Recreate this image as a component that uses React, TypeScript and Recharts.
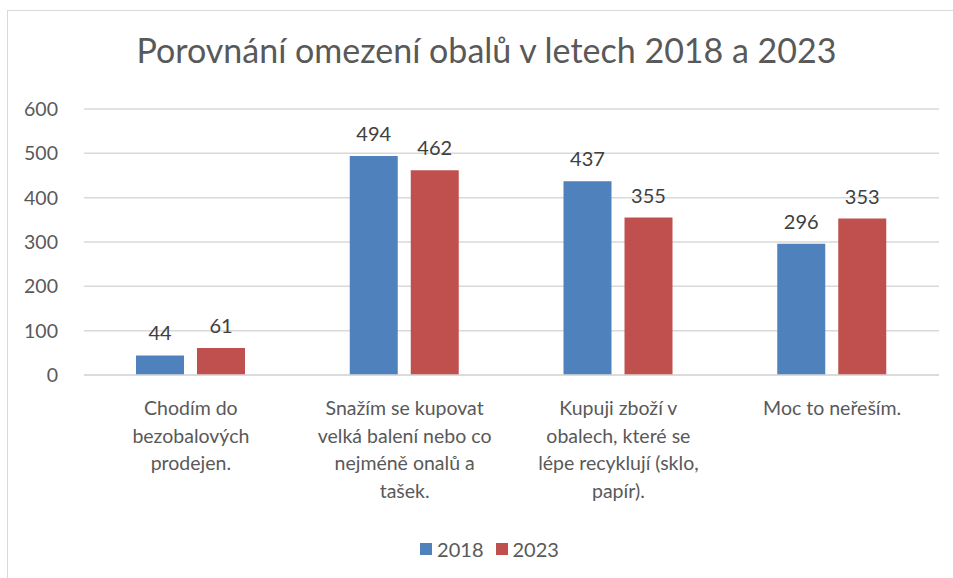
import React from "react";
import { Bar, BarChart, CartesianGrid, LabelList, Legend, XAxis, YAxis } from "recharts";

const categories = [
  "Chodím do\nbezobalových\nprodejen.",
  "Snažím se kupovat\nvelká balení nebo co\nnejméně onalů a\ntašek.",
  "Kupuji zboží v\nobalech, které se\nlépe recyklují (sklo,\npapír).",
  "Moc to neřeším.",
];
const values2018 = [44, 494, 437, 296];
const values2023 = [61, 462, 355, 353];
const yTicks = [0, 100, 200, 300, 400, 500, 600];
const seriesNames = ["2018", "2023"];

const BLUE = "#4F81BD";
const RED = "#C0504D";
const FONT = "Lato, 'Open Sans', sans-serif";

const data = categories.map((name, i) => ({
  name,
  y2018: values2018[i],
  y2023: values2023[i],
}));

function CategoryTick({ x, y, payload }: any) {
  const lines = String(payload.value).split("\n");
  return (
    <g>
      {lines.map((line, i) => (
        <text key={i} x={x} y={y + 32 + i * 27.7} textAnchor="middle" fill="#595959" fontSize={19.5} fontFamily={FONT}>
          {line}
        </text>
      ))}
    </g>
  );
}

function LegendBox() {
  const items = [
    { label: seriesNames[0], color: BLUE },
    { label: seriesNames[1], color: RED },
  ];
  return (
    <div style={{ display: "flex", justifyContent: "center", gap: 12, fontFamily: FONT, fontSize: 20, color: "#595959", paddingTop: 12, paddingLeft: 16 }}>
      {items.map((it) => (
        <div key={it.label} style={{ display: "flex", alignItems: "center", gap: 5 }}>
          <span style={{ width: 12, height: 12, background: it.color, display: "inline-block" }} />
          <span>{it.label}</span>
        </div>
      ))}
    </div>
  );
}

export default function App() {
  return (
    <div style={{ position: "fixed", left: 0, top: 0, width: 953, height: 578, overflow: "hidden", background: "#fff" }}>
      <div style={{ position: "absolute", left: 7, top: 10, width: 1200, height: 1200, border: "1px solid #d9d9d9" }} />
      <div style={{ position: "absolute", left: 0, top: 29, width: 973, textAlign: "center", fontFamily: FONT, fontSize: 34, color: "#595959" }}>
        Porovnání omezení obalů v letech 2018 a 2023
      </div>
      <div style={{ position: "absolute", left: 0, top: 0 }}>
        <BarChart width={953} height={578} data={data} margin={{ top: 109, right: 14, left: 24, bottom: 0 }} barSize={48} barGap={13}>
          <CartesianGrid vertical={false} stroke="#d9d9d9" strokeWidth={1.5} />
          <XAxis dataKey="name" tickLine={false} axisLine={{ stroke: "#d9d9d9", strokeWidth: 1.5 }} height={150} interval={0} tick={<CategoryTick />} />
          <YAxis domain={[0, 600]} ticks={yTicks} tickLine={false} axisLine={false} width={60} tick={{ fill: "#595959", fontSize: 19.5, fontFamily: FONT }} tickMargin={20} />
          <Legend verticalAlign="bottom" height={53} content={<LegendBox />} />
          <Bar dataKey="y2018" name={seriesNames[0]} fill={BLUE} isAnimationActive={false}>
            <LabelList dataKey="y2018" position="top" offset={15} fill="#404040" fontSize={20} fontFamily={FONT} />
          </Bar>
          <Bar dataKey="y2023" name={seriesNames[1]} fill={RED} isAnimationActive={false}>
            <LabelList dataKey="y2023" position="top" offset={15} fill="#404040" fontSize={20} fontFamily={FONT} />
          </Bar>
        </BarChart>
      </div>
    </div>
  );
}
